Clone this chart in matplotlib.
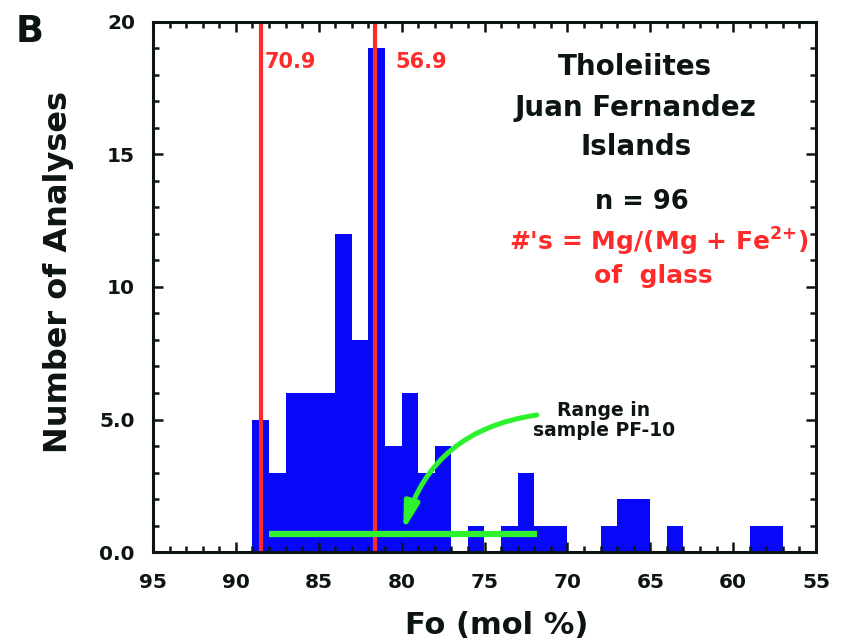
import matplotlib
matplotlib.use("Agg")
import matplotlib.pyplot as plt
from matplotlib.ticker import MultipleLocator, FixedLocator, FixedFormatter

plt.rcParams['font.family'] = ['DejaVu Sans']
plt.rcParams['font.weight'] = 'bold'
plt.rcParams['mathtext.default'] = 'bf'

# ---- data ----
fo_bin_upper = [89, 88, 87, 86, 85, 84, 83, 82, 81, 80, 79, 78, 77, 76, 75, 74,
                73, 72, 71, 70, 69, 68, 67, 66, 65, 64, 63, 62, 61, 60, 59, 58]
counts = [5, 3, 6, 6, 6, 12, 8, 19, 4, 6, 3, 4, 0, 1, 0, 1,
          3, 1, 1, 0, 0, 1, 2, 2, 0, 1, 0, 0, 0, 0, 1, 1]
bin_width = 1.0

mg_line_fo = [88.5, 81.6]
mg_line_labels = ["70.9", "56.9"]
mg_label_fo = [88.25, 80.35]

pf10_range = [88.0, 71.85]
pf10_level = 0.68

x_ticks = [95, 90, 85, 80, 75, 70, 65, 60, 55]
y_ticks = [0, 5, 10, 15, 20]
y_tick_labels = ["0.0", "5.0", "10", "15", "20"]

BLUE = '#0808f8'
RED = '#ff2b2b'
GREEN = '#2ef22e'
INK = '#0d1414'

fig = plt.figure(figsize=(8.46, 6.44), dpi=100)
ax = fig.add_axes([153/846, 1-552/644, (816-153)/846, (552-22)/644])
ax.set_axisbelow(False)

ax.bar(fo_bin_upper, counts, width=-bin_width, align='edge', color=BLUE,
       edgecolor='none', zorder=2)

for xv, lx, lab in zip(mg_line_fo, mg_label_fo, mg_line_labels):
    ax.axvline(xv, color=RED, lw=3, zorder=3)
    ax.text(lx, 18.5, lab, color=RED, fontsize=15, fontweight='bold',
            ha='left', va='center', zorder=4)

ax.plot(pf10_range, [pf10_level, pf10_level], color=GREEN, lw=4.5,
        solid_capstyle='butt', zorder=4)
ax.annotate("", xy=(79.9, 0.8), xytext=(71.85, 5.17),
            arrowprops=dict(arrowstyle="-|>,head_length=0.8,head_width=0.22",
                            mutation_scale=20, color=GREEN, lw=3.6,
                            shrinkA=0, shrinkB=0,
                            connectionstyle="arc3,rad=0.32"), zorder=4)
ax.text(67.8, 4.95, "Range in\nsample PF-10", fontsize=13.5, fontweight='bold',
        color=INK, ha='center', va='center', linespacing=1.05, zorder=5)

ax.text(65.9, 18.3, "Tholeiites", fontsize=20, fontweight='bold', color=INK,
        ha='center', va='center')
ax.text(65.9, 16.75, "Juan Fernandez", fontsize=20, fontweight='bold', color=INK,
        ha='center', va='center')
ax.text(65.85, 15.28, "Islands", fontsize=20, fontweight='bold', color=INK,
        ha='center', va='center')
ax.text(65.5, 13.2, "n = 96", fontsize=18.5, fontweight='bold', color=INK,
        ha='center', va='center')
ax.text(64.5, 11.7, r"#'s = Mg/(Mg + Fe$^{2{+}}$)", fontsize=18,
        fontweight='bold', color=RED, ha='center', va='center')
ax.text(64.8, 10.4, "of  glass", fontsize=18, fontweight='bold', color=RED,
        ha='center', va='center')

ax.set_xlim(95, 55)
ax.set_ylim(0, 20)
ax.xaxis.set_major_locator(FixedLocator(x_ticks))
ax.xaxis.set_minor_locator(MultipleLocator(1))
ax.yaxis.set_major_locator(FixedLocator(y_ticks))
ax.yaxis.set_major_formatter(FixedFormatter(y_tick_labels))
ax.yaxis.set_minor_locator(MultipleLocator(1))

for s in ax.spines.values():
    s.set_linewidth(2.2)
    s.set_color(INK)
    s.set_zorder(6)

ax.tick_params(which='both', direction='in', top=True, right=True, color=INK,
               width=1.8, labelsize=14.5, labelcolor=INK)
ax.tick_params(which='major', length=7.5)
ax.tick_params(which='minor', length=4)
ax.tick_params(axis='x', which='major', pad=15)
ax.tick_params(axis='y', which='major', pad=13)
for lab in ax.get_xticklabels() + ax.get_yticklabels():
    lab.set_fontweight('bold')

fig.text(497/846, 1-625/644, "Fo (mol %)", fontsize=22, fontweight='bold',
         color=INK, ha='center', va='center')
fig.text(59/846, 1-272/644, "Number of Analyses", fontsize=23, fontweight='bold',
         color=INK, ha='center', va='center', rotation=90)
fig.text(30/846, 1-32/644, "B", fontsize=26.5, fontweight='bold', color=INK,
         ha='center', va='center')

fig.savefig("out.png", dpi=100)
